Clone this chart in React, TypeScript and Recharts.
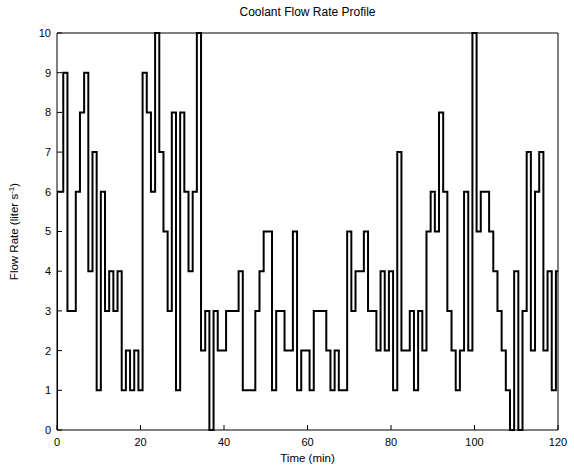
import { LineChart, Line, XAxis, YAxis } from 'recharts'

// start of each flat step (min) and the flow rate held from there on
const stepStart = [
  0, 0, 1.5, 2.5, 4.5, 5.5, 6.5, 7.5, 8.5, 9.5, 10.5, 11.5, 12.5, 13.5, 14.5, 15.5, 16.5, 17.5, 18.5, 19.5,
  20.5, 21.5, 22.5, 23.5, 24.5, 25.5, 26.5, 27.5, 28.5, 29.5, 30.5, 31.5, 32.5, 33.5, 34.5, 35.5, 36.5, 37.5,
  38.5, 40.5, 43.5, 44.5, 47.5, 48.5, 49.5, 51.5, 52.5, 54.5, 56.5, 57.5, 58.5, 60.5, 61.5, 64.5, 65.5, 66.5,
  67.5, 69.5, 70.5, 71.5, 73.5, 74.5, 76.5, 77.5, 78.5, 79.5, 80.5, 81.5, 82.5, 84.5, 85.5, 86.5, 87.5, 88.5,
  89.5, 90.5, 91.5, 92.5, 93.5, 94.5, 95.5, 96.5, 97.5, 98.5, 99.5, 100.5, 101.5, 103.5, 104.5, 105.5, 106.5,
  107.5, 108.5, 109.5, 110.5, 111.5, 112.5, 113.5, 114.5, 115.5, 116.5, 117.5, 118.5, 119.5, 120,
]
const flowRate = [
  0, 6, 9, 3, 6, 8, 9, 4, 7, 1, 6, 3, 4, 3, 4, 1, 2, 1, 2, 1,
  9, 8, 6, 10, 7, 5, 3, 8, 1, 8, 6, 4, 6, 10, 2, 3, 0, 3,
  2, 3, 4, 1, 3, 4, 5, 1, 3, 2, 5, 1, 2, 1, 3, 2, 1, 2,
  1, 5, 3, 4, 5, 3, 2, 4, 2, 4, 1, 7, 2, 3, 1, 3, 2, 5,
  6, 5, 8, 6, 3, 2, 1, 2, 6, 2, 10, 5, 6, 5, 4, 3, 2,
  1, 0, 4, 0, 3, 7, 2, 6, 7, 2, 4, 1, 4, 4,
]

const timeTicks = [0, 20, 40, 60, 80, 100, 120]
const rateTicks = [0, 1, 2, 3, 4, 5, 6, 7, 8, 9, 10]

const data = stepStart.map((t, i) => ({ t, flow: flowRate[i] }))

const font = '"Liberation Sans", Arial, sans-serif'
const tickStyle = { fontSize: 11, fill: '#000', fontFamily: font }

function YLabel(props: any) {
  const vb = props.viewBox
  const cx = 18
  const cy = vb.y + vb.height / 2
  return (
    <text
      x={cx}
      y={cy}
      transform={`rotate(-90, ${cx}, ${cy})`}
      textAnchor="middle"
      fontSize={11.5}
      fontFamily={font}
      fill="#000"
    >
      Flow Rate (liter s
      <tspan dy={-4} fontSize={8}>
        -1
      </tspan>
      <tspan dy={4}>)</tspan>
    </text>
  )
}

export default function App() {
  return (
    <div style={{ position: 'absolute', left: 0, top: 0, width: 574, height: 468, background: '#fff' }}>
      <div
        style={{
          position: 'absolute',
          left: 57,
          width: 501,
          top: 5,
          textAlign: 'center',
          fontFamily: font,
          fontSize: 12,
          color: '#000',
        }}
      >
        Coolant Flow Rate Profile
      </div>
      <LineChart width={574} height={468} data={data} margin={{ top: 32, right: 15, bottom: 18, left: 27 }}>
        <XAxis
          dataKey="t"
          type="number"
          domain={[0, 120]}
          ticks={timeTicks}
          allowDataOverflow
          stroke="#000"
          tickSize={-5}
          tickMargin={13}
          tick={tickStyle}
          height={20}
          label={{
            value: 'Time (min)',
            position: 'insideBottom',
            offset: -12,
            style: { fontSize: 11.5, fill: '#000', fontFamily: font },
          }}
        />
        <XAxis
          xAxisId="top"
          orientation="top"
          dataKey="t"
          type="number"
          domain={[0, 120]}
          ticks={timeTicks}
          stroke="#000"
          tickSize={-5}
          tick={false}
          height={1}
        />
        <YAxis
          type="number"
          domain={[0, 10]}
          ticks={rateTicks}
          stroke="#000"
          tickSize={-5}
          tickMargin={11}
          tick={tickStyle}
          width={30}
          label={{ content: YLabel }}
        />
        <YAxis
          yAxisId="right"
          orientation="right"
          type="number"
          domain={[0, 10]}
          ticks={rateTicks}
          stroke="#000"
          tickSize={-5}
          tick={false}
          width={1}
        />
        <Line
          type="stepAfter"
          dataKey="flow"
          stroke="#000"
          strokeWidth={2}
          dot={false}
          isAnimationActive={false}
        />
      </LineChart>
    </div>
  )
}
